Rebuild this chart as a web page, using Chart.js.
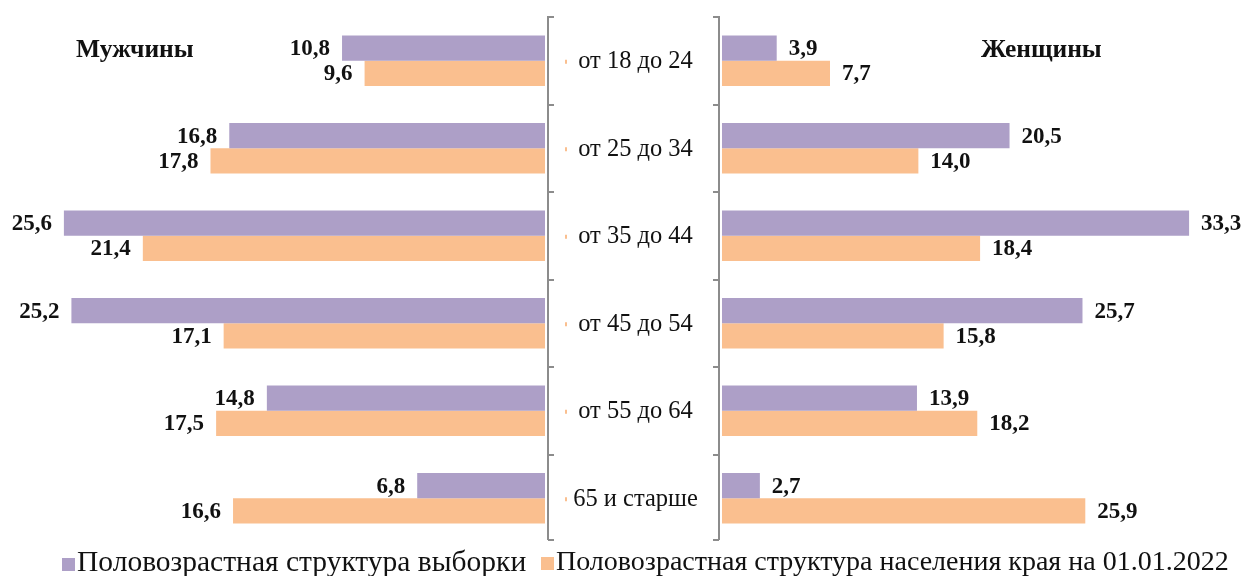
<!DOCTYPE html>
<html lang="ru">
<head>
<meta charset="UTF-8">
<title>Половозрастная структура</title>
<script src="https://cdn.jsdelivr.net/npm/chart.js"></script>
<style>
    body { margin: 0; background: #fff; width: 1248px; height: 576px; overflow: hidden; position: relative; font-family: "Liberation Serif", "Times New Roman", serif; color: #111; }
    #menBox { position: absolute; left: 0; top: 0; width: 547px; height: 576px; }
    #womenBox { position: absolute; left: 540px; top: 0; width: 708px; height: 576px; }
    .title { position: absolute; top: 34px; font-weight: bold; font-size: 25.5px; }
    .legend { position: absolute; top: 545px; line-height: 32px; white-space: nowrap; }
    .legend span { display: inline-block; width: 13px; height: 13px; margin-right: 2px; }
</style>
</head>
<body>
<div id="menBox"><canvas id="menChart"></canvas></div>
<div id="womenBox"><canvas id="womenChart"></canvas></div>
<div class="title" style="left:76px">Мужчины</div>
<div class="title" style="left:981px">Женщины</div>
<div class="legend" style="left:62px; font-size:29.5px"><span style="background:#ad9fc7"></span>Половозрастная структура выборки</div>
<div class="legend" style="left:541px; font-size:28px"><span style="background:#fabf8f"></span>Половозрастная структура населения края на 01.01.2022</div>

<script>
var ageGroups = ['от 18 до 24', 'от 25 до 34', 'от 35 до 44', 'от 45 до 54', 'от 55 до 64', '65 и старше'];
var menSample = [10.8, 16.8, 25.6, 25.2, 14.8, 6.8];
var menPopulation = [9.6, 17.8, 21.4, 17.1, 17.5, 16.6];
var womenSample = [3.9, 20.5, 33.3, 25.7, 13.9, 2.7];
var womenPopulation = [7.7, 14.0, 18.4, 15.8, 18.2, 25.9];
var seriesNames = ['Половозрастная структура выборки', 'Половозрастная структура населения края на 01.01.2022'];

var purple = '#ad9fc7';
var orange = '#fabf8f';

// value labels at the end of each bar
function valueLabels(side) {
    return {
        id: 'valueLabels',
        afterDatasetsDraw: function (chart) {
            var ctx = chart.ctx;
            ctx.save();
            ctx.font = 'bold 23px "Liberation Serif"';
            ctx.fillStyle = '#111';
            ctx.textBaseline = 'middle';
            ctx.textAlign = side === 'left' ? 'right' : 'left';
            chart.data.datasets.forEach(function (ds, i) {
                chart.getDatasetMeta(i).data.forEach(function (bar, j) {
                    var txt = ds.data[j].toFixed(1).replace('.', ',');
                    var x = side === 'left' ? bar.x - 12 : bar.x + 12;
                    ctx.fillText(txt, x, bar.y + 1);
                });
            });
            ctx.restore();
        }
    };
}

// bracket lines and the age labels between the two charts
var brackets = {
    id: 'brackets',
    afterDraw: function (chart) {
        var ctx = chart.ctx;
        var area = chart.chartArea;
        var n = ageGroups.length;
        var step = (area.bottom - area.top) / n;
        var xl = 8, xr = area.left - 3;
        ctx.save();
        ctx.strokeStyle = '#8c8c8c';
        ctx.lineWidth = 2;
        ctx.beginPath();
        ctx.moveTo(xl, area.top - 1); ctx.lineTo(xl, area.bottom - 2);
        ctx.moveTo(xr, area.top - 1); ctx.lineTo(xr, area.bottom - 2);
        for (var i = 0; i <= n; i++) {
            var y = Math.round(area.top + i * step) - (i === n ? 2 : 0);
            ctx.moveTo(xl, y); ctx.lineTo(xl + 6, y);
            ctx.moveTo(xr, y); ctx.lineTo(xr - 6, y);
        }
        ctx.stroke();
        ctx.font = '24.5px "Liberation Serif"';
        ctx.textAlign = 'center';
        ctx.textBaseline = 'middle';
        for (var k = 0; k < n; k++) {
            var yc = chart.scales.y.getPixelForValue(k);
            // small orange mark in front of the label
            ctx.fillStyle = orange;
            ctx.fillRect(25, yc - 1, 2, 4);
            ctx.fillStyle = '#111';
            ctx.fillText(ageGroups[k], (xl + xr) / 2 + 2, yc + 1);
        }
        ctx.restore();
    }
};

function barOptions(reverse, maxVal, padding) {
    return {
        indexAxis: 'y',
        responsive: true,
        maintainAspectRatio: false,
        animation: false,
        layout: { padding: padding },
        datasets: { bar: { categoryPercentage: 0.575, barPercentage: 1 } },
        plugins: { legend: { display: false }, tooltip: { enabled: false } },
        scales: {
            x: { display: false, reverse: reverse, min: 0, max: maxVal },
            y: { display: false }
        }
    };
}

new Chart(document.getElementById('menChart'), {
    type: 'bar',
    data: {
        labels: ageGroups,
        datasets: [
            { label: seriesNames[0], data: menSample, backgroundColor: purple },
            { label: seriesNames[1], data: menPopulation, backgroundColor: orange }
        ]
    },
    options: barOptions(true, 29, { top: 17, bottom: 34, left: 0, right: 2 }),
    plugins: [valueLabels('left')]
});

new Chart(document.getElementById('womenChart'), {
    type: 'bar',
    data: {
        labels: ageGroups,
        datasets: [
            { label: seriesNames[0], data: womenSample, backgroundColor: purple },
            { label: seriesNames[1], data: womenPopulation, backgroundColor: orange }
        ]
    },
    options: barOptions(false, 37.5, { top: 17, bottom: 34, left: 182, right: 0 }),
    plugins: [valueLabels('right'), brackets]
});
</script>
</body>
</html>
